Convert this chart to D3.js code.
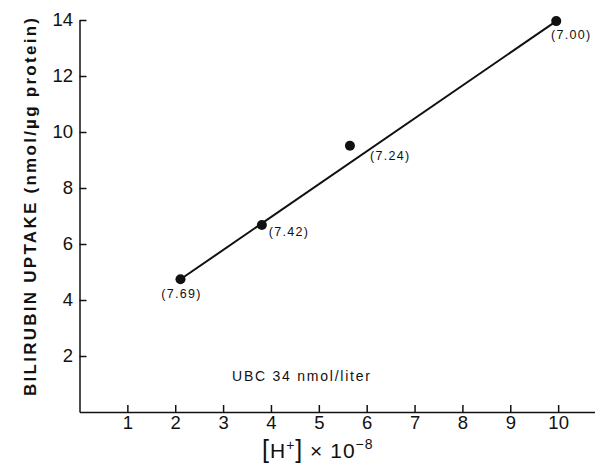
<!DOCTYPE html>
<html>
<head>
<meta charset="utf-8">
<script src="https://cdn.jsdelivr.net/npm/d3@7"></script>
<style>
  body { margin: 0; background: #fff; }
  svg text { font-family: "Liberation Sans", Arial, sans-serif; fill: #111; }
</style>
</head>
<body>
<div id="chart"></div>
<script>
// data
var hIon = [2.11, 3.81, 5.65, 9.96];          // [H+] x 10^-8
var uptake = [4.74, 6.68, 9.51, 13.96];       // nmol / ug protein
var phLabels = ["(7.69)", "(7.42)", "(7.24)", "(7.00)"];
var fitX = [2.11, 9.96];
var fitY = [4.74, 13.96];
var xTicks = [1, 2, 3, 4, 5, 6, 7, 8, 9, 10];
var yTicks = [2, 4, 6, 8, 10, 12, 14];

var W = 595, H = 468;
var svg = d3.select("#chart").append("svg")
    .attr("width", W)
    .attr("height", H);

var x = d3.scaleLinear().domain([0, 10.77]).range([79.5, 595]);
var y = d3.scaleLinear().domain([0, 14]).range([412, 20]);

// axes (ticks point inward)
var xAxis = d3.axisBottom(x).tickValues(xTicks).tickSizeInner(-7).tickSizeOuter(0).tickPadding(3.5);
var yAxis = d3.axisLeft(y).tickValues(yTicks).tickSizeInner(-7).tickSizeOuter(0).tickPadding(6.5);

var gx = svg.append("g").attr("transform", "translate(0," + y(0) + ")").call(xAxis);
var gy = svg.append("g").attr("transform", "translate(" + x(0) + ",0)").call(yAxis);

[gx, gy].forEach(function(g) {
    g.selectAll("path, line").attr("stroke", "#111").attr("stroke-width", 1.5);
    g.selectAll("text").attr("font-size", 18.5).attr("fill", "#111")
        .style("font-family", "'Liberation Sans', Arial, sans-serif");
});

// fitted line
var pts = fitX.map(function(v, i) { return [v, fitY[i]]; });
svg.append("path")
    .attr("d", d3.line().x(function(d) { return x(d[0]); }).y(function(d) { return y(d[1]); })(pts))
    .attr("fill", "none")
    .attr("stroke", "#111")
    .attr("stroke-width", 2);

// points
var data = hIon.map(function(v, i) { return { h: v, u: uptake[i], lab: phLabels[i] }; });
svg.selectAll("circle.pt").data(data).enter().append("circle")
    .attr("class", "pt")
    .attr("cx", function(d) { return x(d.h); })
    .attr("cy", function(d) { return y(d.u); })
    .attr("r", 5)
    .attr("fill", "#111");

// pH labels, offsets from each point
var offs = [[1, 19, "middle"], [7, 11, "start"], [20, 14, "start"], [15, 18, "middle"]];
svg.selectAll("text.ph").data(data).enter().append("text")
    .attr("class", "ph")
    .attr("x", function(d, i) { return x(d.h) + offs[i][0]; })
    .attr("y", function(d, i) { return y(d.u) + offs[i][1]; })
    .attr("text-anchor", function(d, i) { return offs[i][2]; })
    .attr("font-size", 12.5)
    .attr("letter-spacing", 1.3)
    .text(function(d) { return d.lab; });

// note
svg.append("text")
    .attr("x", 232).attr("y", 381)
    .attr("font-size", 14)
    .attr("textLength", 138)
    .attr("lengthAdjust", "spacing")
    .text("UBC 34 nmol/liter");

// y label
svg.append("text")
    .attr("transform", "translate(36,396) rotate(-90)")
    .attr("font-size", 17)
    .attr("font-weight", "bold")
    .attr("textLength", 378)
    .attr("lengthAdjust", "spacing")
    .text("BILIRUBIN UPTAKE (nmol/\u00b5g protein)");

// x label
var xl = svg.append("text")
    .attr("x", 262).attr("y", 458)
    .attr("font-size", 21)
    .attr("letter-spacing", 1);
xl.append("tspan").attr("font-size", 25).text("[");
xl.append("tspan").text("H");
xl.append("tspan").attr("font-size", 14).attr("dy", -8).text("+");
xl.append("tspan").attr("font-size", 25).attr("dy", 8).text("]");
xl.append("tspan").text(" \u00d7 10");
xl.append("tspan").attr("font-size", 14).attr("dy", -9).text("\u22128");
</script>
</body>
</html>
